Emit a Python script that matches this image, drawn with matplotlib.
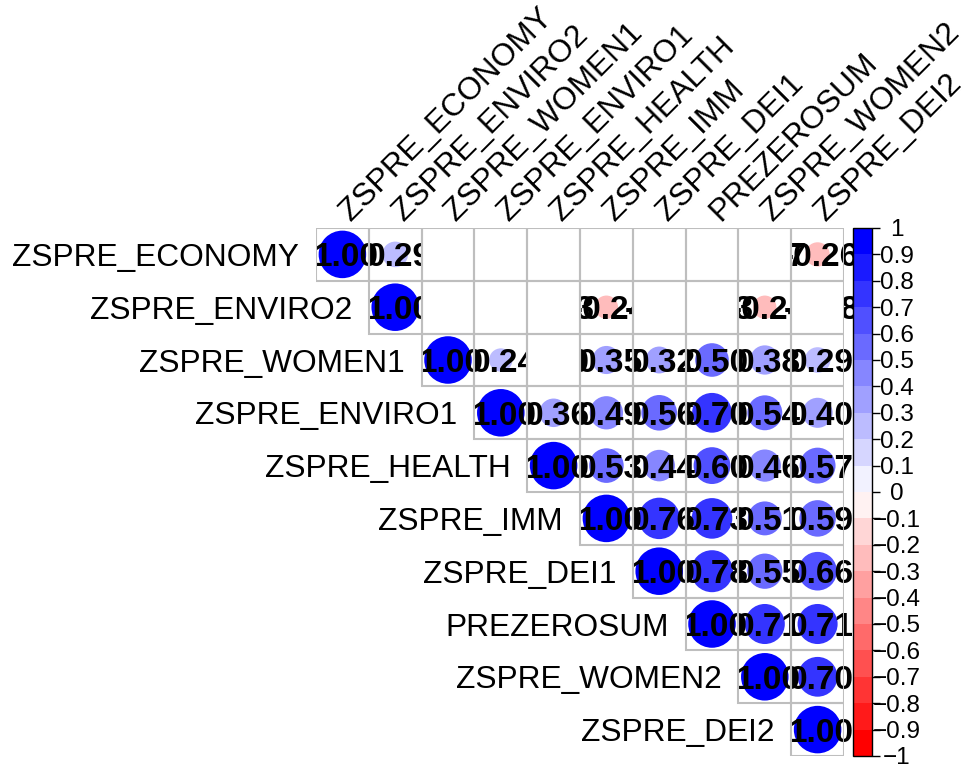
import numpy as np
import matplotlib
matplotlib.use("Agg")
import matplotlib.pyplot as plt
from matplotlib.colors import LinearSegmentedColormap, ListedColormap, BoundaryNorm
from matplotlib.patches import Circle, Rectangle
from matplotlib.cm import ScalarMappable

plt.rcParams['font.family'] = ['Liberation Sans', 'DejaVu Sans']

labels = ["ZSPRE_ECONOMY", "ZSPRE_ENVIRO2", "ZSPRE_WOMEN1", "ZSPRE_ENVIRO1",
          "ZSPRE_HEALTH", "ZSPRE_IMM", "ZSPRE_DEI1", "PREZEROSUM",
          "ZSPRE_WOMEN2", "ZSPRE_DEI2"]

# upper triangle, each row starts at the diagonal
corr_rows = [
    [1.00, 0.29, 0.10, 0.05, 0.12, -0.06, 0.02, 0.04, -0.07, -0.26],
    [1.00, 0.08, 0.15, -0.13, -0.24, -0.10, -0.13, -0.24, -0.18],
    [1.00, 0.24, 0.10, 0.35, 0.32, 0.50, 0.38, 0.29],
    [1.00, 0.36, 0.49, 0.56, 0.70, 0.54, 0.40],
    [1.00, 0.53, 0.44, 0.60, 0.46, 0.57],
    [1.00, 0.76, 0.73, 0.51, 0.59],
    [1.00, 0.78, 0.55, 0.66],
    [1.00, 0.71, 0.71],
    [1.00, 0.70],
    [1.00],
]

# not significant -> left blank (row, col)
blank_cells = [(0, 2), (0, 3), (0, 4), (0, 5), (0, 6), (0, 7), (0, 8),
               (1, 2), (1, 3), (1, 4), (1, 6), (1, 7), (1, 9),
               (2, 4)]

bar_ticks = np.round(np.linspace(-1, 1, 21), 1)

n = len(labels)
base = LinearSegmentedColormap.from_list("rwb", ["red", "white", "blue"])
colors = [base(k / 19) for k in range(20)]
cmap = ListedColormap(colors)
norm = BoundaryNorm(np.linspace(-1, 1, 21), 20)

fig = plt.figure(figsize=(9.64, 7.66), dpi=100)
ax = fig.add_axes([316 / 964, 10 / 766, 528 / 964, 528 / 766])
ax.set_xlim(-0.5, n - 0.5)
ax.set_ylim(n - 0.5, -0.5)
ax.axis("off")

for i, row in enumerate(corr_rows):
    for k, v in enumerate(row):
        j = i + k
        idx = min(int((v + 1) / 0.1), 19)
        ax.add_patch(Circle((j, i), 0.45 * np.sqrt(abs(v)), facecolor=colors[idx],
                            edgecolor="none", zorder=2))
        ax.text(j + 0.07, i, "%.2f" % v, ha="center", va="center_baseline",
                fontsize=24, fontweight="bold", color="black", zorder=3)
        ax.add_patch(Rectangle((j - 0.5, i - 0.5), 1, 1, fill=False,
                               edgecolor="#BEBEBE", lw=1.5, zorder=5))

for (i, j) in blank_cells:
    ax.add_patch(Rectangle((j - 0.5, i - 0.5), 1, 1, facecolor="white",
                           edgecolor="none", zorder=4))

for i, name in enumerate(labels):
    ax.text(i - 0.5 - 0.32, i, name, ha="right", va="center_baseline", fontsize=22.8)
    ax.text(i, -0.77, name, rotation=45, rotation_mode="anchor", ha="left",
            va="center_baseline", fontsize=22.8)

cax = fig.add_axes([853 / 964, 10 / 766, 19 / 964, 528 / 766])
cb = fig.colorbar(ScalarMappable(norm=norm, cmap=cmap), cax=cax, ticks=bar_ticks)
cb.outline.set_linewidth(1)
tick_text = []
for t in bar_ticks:
    if t == 0:
        tick_text.append("0")
    elif abs(t) == 1:
        tick_text.append("1" if t > 0 else "\u22121")
    else:
        tick_text.append(("%.1f" % t).replace("-", "\u2212"))
cax.set_yticklabels(tick_text)
cax.tick_params(length=6, width=1, labelsize=17.5, pad=12)
for lbl in cax.get_yticklabels():
    lbl.set_horizontalalignment("center")

fig.savefig("out.png", dpi=100)
